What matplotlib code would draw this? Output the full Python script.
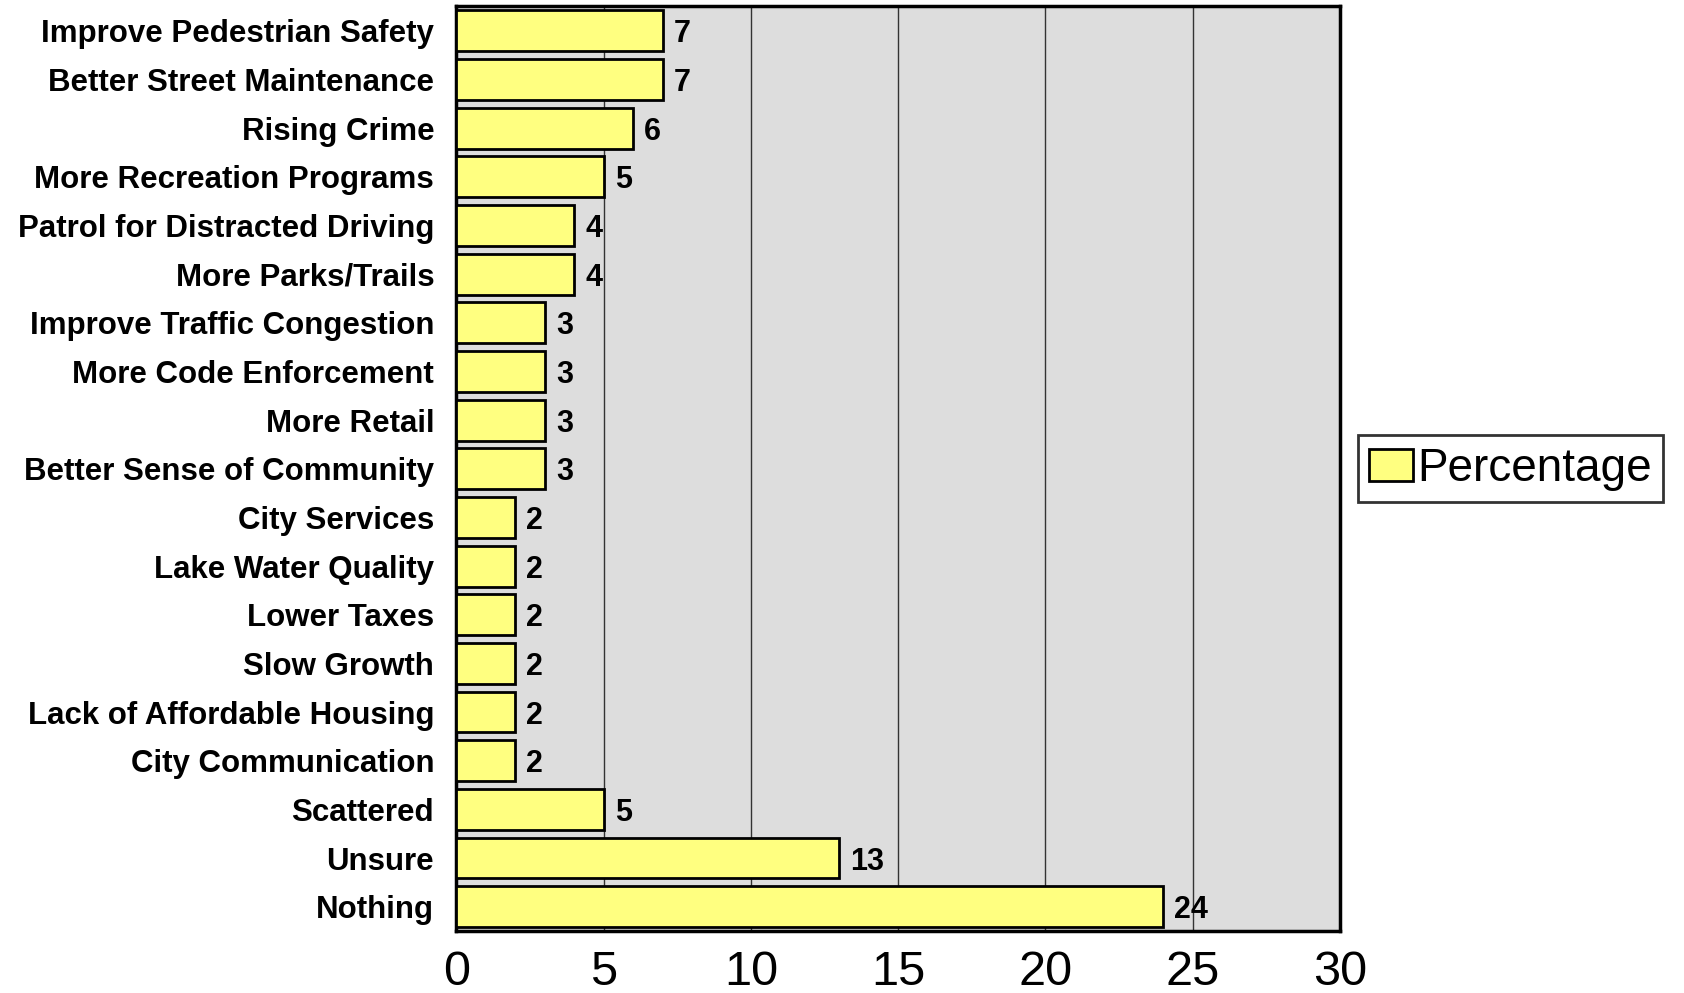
import numpy as np
import matplotlib.pyplot as plt

categories = ["Improve Pedestrian Safety", "Better Street Maintenance", "Rising Crime",
              "More Recreation Programs", "Patrol for Distracted Driving", "More Parks/Trails",
              "Improve Traffic Congestion", "More Code Enforcement", "More Retail",
              "Better Sense of Community", "City Services", "Lake Water Quality",
              "Lower Taxes", "Slow Growth", "Lack of Affordable Housing",
              "City Communication", "Scattered", "Unsure", "Nothing"]
values = [7, 7, 6, 5, 4, 4, 3, 3, 3, 3, 2, 2, 2, 2, 2, 2, 5, 13, 24]
xticks = [0, 5, 10, 15, 20, 25, 30]

plt.rcParams['font.family'] = ['Liberation Sans', 'DejaVu Sans']

fig = plt.figure(figsize=(16.84, 9.93), dpi=100)
ax = fig.add_axes([0.271, 0.0624, 0.5247, 0.9311])
ax.set_facecolor('#dddddd')

y = np.arange(len(categories))
ax.barh(y, values, height=0.84, color='#ffff80', edgecolor='black',
        linewidth=2, label='Percentage', zorder=3)

# value labels at bar ends
for yi, v in zip(y, values):
    ax.annotate(str(v), (v, yi), xytext=(8, 0), textcoords='offset points',
                ha='left', va='center_baseline', fontsize=22, fontweight='bold', zorder=4)

ax.set_xlim(0, 30)
ax.set_ylim(len(categories) - 0.5, -0.5)
ax.set_xticks(xticks)
ax.set_xticklabels([str(t) for t in xticks], fontsize=35)
ax.set_yticks(y)
ax.set_yticklabels(categories, fontsize=22.5, fontweight='bold')
ax.tick_params(axis='both', length=0)
ax.tick_params(axis='y', pad=16)
ax.tick_params(axis='x', pad=14)

ax.grid(axis='x', color='#333333', linewidth=1, zorder=1)
for s in ax.spines.values():
    s.set_linewidth(2.5)
    s.set_color('black')

leg = ax.legend(loc='center left', bbox_to_anchor=(1.02, 0.5), fontsize=33,
                frameon=True, fancybox=False, edgecolor='black',
                handlelength=0.95, handleheight=0.7, handletextpad=0.1,
                borderpad=0.25, borderaxespad=0)
leg.get_frame().set_linewidth(2)

fig.savefig('out.png', dpi=100)
